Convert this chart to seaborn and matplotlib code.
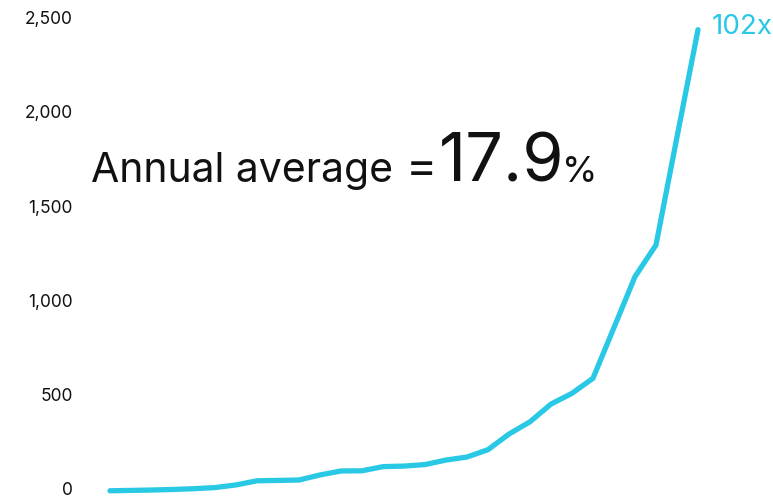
import matplotlib
matplotlib.use("Agg")
import matplotlib.pyplot as plt
import seaborn as sns
import pandas as pd

# Cumulative growth series, one value per period
periods = list(range(29))
values = [24, 26, 28, 31, 35, 41, 55, 77, 79, 81, 108, 129, 130, 152, 155,
          163, 187, 203, 242, 325, 390, 484, 541, 621, 890, 1160, 1328, 1901, 2470]
y_ticks = [0, 500, 1000, 1500, 2000, 2500]
y_tick_labels = ["0", "500", "1,000", "1,500", "2,000", "2,500"]
end_label = "102x"
headline = "Annual average"
headline_sign = "="
headline_value = "17.9"
headline_unit = "%"

LINE = "#29C8E5"
INK = "#111111"
FONT = ["Inter", "DejaVu Sans"]

sns.set_theme(style="white")
plt.rcParams["font.family"] = FONT

W, H = 773, 503
fig = plt.figure(figsize=(W / 100, H / 100), dpi=100)
ax = fig.add_axes([110 / W, (H - 495.3) / H, 588 / W, 471.25 / H])

df = pd.DataFrame({"period": periods, "value": values})
sns.lineplot(data=df, x="period", y="value", ax=ax, color=LINE,
             linewidth=3.8, solid_capstyle="round", solid_joinstyle="miter",
             clip_on=False)

ax.set_xlim(periods[0], periods[-1])
ax.set_ylim(0, 2500)
ax.set_xticks([])
ax.set_yticks(y_ticks)
ax.set_yticklabels(y_tick_labels, fontsize=12.5, color=INK)
for lab in ax.get_yticklabels():
    lab.set_verticalalignment("baseline")
ax.tick_params(axis="y", length=0, pad=27)
ax.set_xlabel("")
ax.set_ylabel("")
for s in ax.spines.values():
    s.set_visible(False)
ax.grid(False)

# End-of-series multiple label
ax.annotate(end_label, xy=(periods[-1], values[-1]), xytext=(10, 2),
            textcoords="offset points", ha="left", va="center",
            fontsize=20, color=LINE, annotation_clip=False)

# Headline: runs of text set on one baseline, each after the previous
base_y = (H - 182) / H
renderer = fig.canvas.get_renderer()
parts = [(headline, 29.5, 0), (headline_sign, 34, 13),
         (headline_value, 48, 1), (headline_unit, 26, -2)]
x = 91
for txt, size, gap in parts:
    x += gap
    t = fig.text(x / W, base_y, txt, fontsize=size, color=INK,
                 ha="left", va="baseline")
    x = t.get_window_extent(renderer).x1

fig.savefig("out.png", dpi=100)
